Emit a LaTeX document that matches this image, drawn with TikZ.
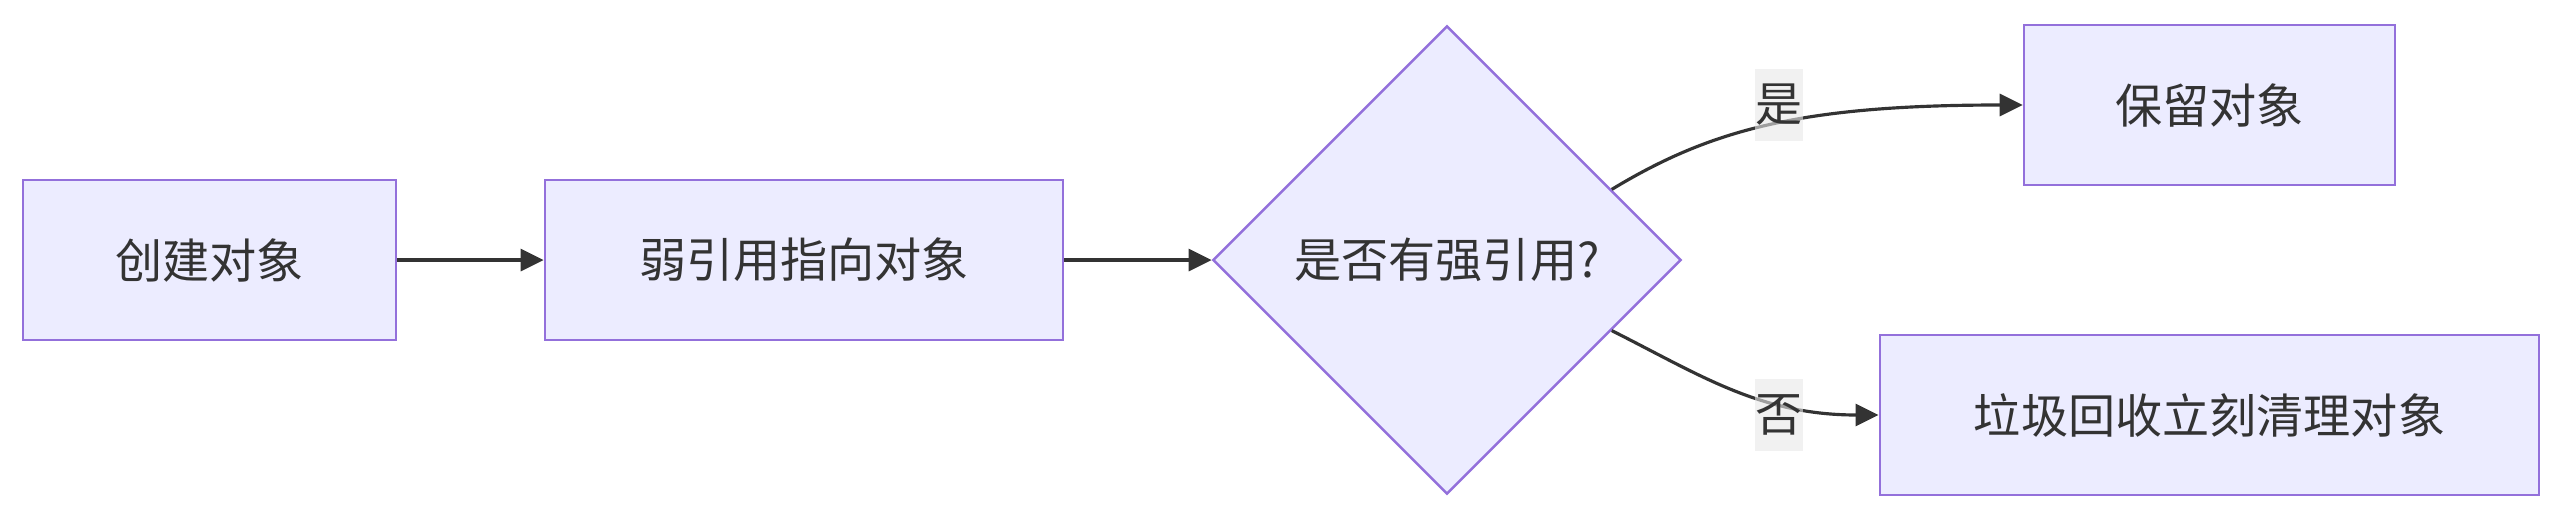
\documentclass[tikz,border=0pt]{standalone}
\usepackage{fontspec}
\newfontfamily\cjk{Noto Sans CJK SC}
\usepackage{xcolor}
\usepackage{tikz}
\usetikzlibrary{arrows.meta, positioning, shapes.geometric, calc}

\definecolor{boxfill}{HTML}{ECECFF}
\definecolor{boxline}{HTML}{9370DB}
\definecolor{inkgray}{HTML}{333333}
\definecolor{lblfill}{HTML}{E8E8E8}

\tikzset{
  procbox/.style={draw=boxline, fill=boxfill, line width=0.7pt,
    minimum height=1.6cm, inner sep=0pt, text=inkgray},
  askbox/.style={diamond, aspect=1, draw=boxline, fill=boxfill,
    line width=0.7pt, minimum size=4.68cm, inner sep=0pt, text=inkgray},
  edgelbl/.style={fill=lblfill, fill opacity=0.6, text opacity=1,
    inner sep=0pt, minimum width=0.47cm, minimum height=0.71cm, text=inkgray},
  arr/.style={draw=inkgray, line width=0.9pt,
    -{Triangle[length=0.23cm, width=0.22cm]}}
}

\begin{document}
\begin{tikzpicture}[x=0.01cm, y=-0.01cm, font=\cjk\fontsize{13.4}{16}\selectfont]
  \useasboundingbox (0,0) rectangle (2564,521);

  %--- main chain ---
  \node[procbox, minimum width=3.73cm] (create) at (209.5,260) {创建对象};
  \node[procbox, minimum width=5.18cm] (weak)   at (804,260)   {弱引用指向对象};
  \node[askbox]                         (ask)    at (1447,260)  {是否有强引用?};

  %--- outcomes ---
  \node[procbox, minimum width=3.71cm] (keep) at (2209.5,105) {保留对象};
  \node[procbox, minimum width=6.59cm] (gc)   at (2209.5,415) {垃圾回收立刻清理对象};

  \draw[arr] (create) -- (weak);
  \draw[arr] (weak) -- (ask);

  \coordinate (askup) at ($(ask.east)!0.3!(ask.north)$);
  \coordinate (asklo) at ($(ask.east)!0.3!(ask.south)$);
  \draw[arr] (askup) .. controls (1710,130) and (1800,105) .. (keep.west);
  \draw[arr] (asklo) .. controls (1700,375) and (1760,415) .. (gc.west);

  \node[edgelbl] (yes) at (1779,105) {是};
  \node[edgelbl] (no)  at (1779,415) {否};
\end{tikzpicture}
\end{document}
